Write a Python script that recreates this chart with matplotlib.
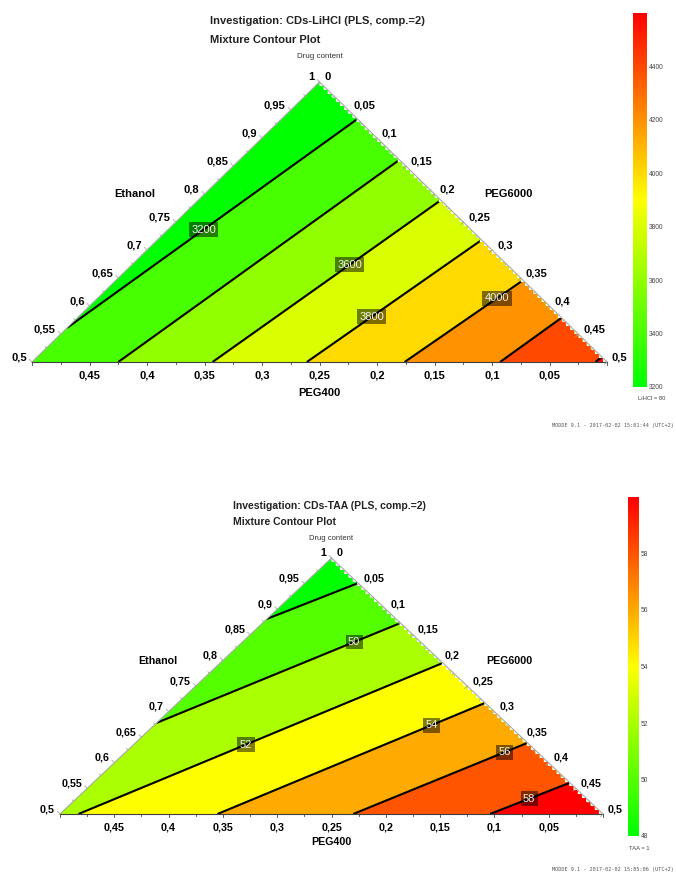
import numpy as np
import matplotlib
matplotlib.use('Agg')
import matplotlib.pyplot as plt
from matplotlib.colors import LinearSegmentedColormap, Normalize
from matplotlib.patches import Polygon
from matplotlib.cm import ScalarMappable

W, H = 676, 874
plt.rcParams['font.family'] = ['Liberation Sans', 'DejaVu Sans']

# LiHCl response: contour levels and where each line meets the triangle edges
# (start = composition on left/bottom edge, end = PEG6000 fraction on right edge)
lihcl_levels = [3200, 3400, 3600, 3800, 4000, 4200, 4400]
lihcl_start_peg400 = [0.439, 0.425, 0.343, 0.261, 0.176, 0.093, 0.010]
lihcl_start_peg6000 = [0.000, 0.075, 0.157, 0.239, 0.324, 0.407, 0.490]
lihcl_end_peg6000 = [0.066, 0.139, 0.211, 0.282, 0.354, 0.421, 0.491]
lihcl_range = [3200, 4600]
lihcl_cbar_ticks = [3200, 3400, 3600, 3800, 4000, 4200, 4400]

# TAA response
taa_levels = [48, 50, 52, 54, 56, 58]
taa_start_peg400 = [0.119, 0.322, 0.483, 0.355, 0.230, 0.104]
taa_start_peg6000 = [0.000, 0.000, 0.017, 0.145, 0.270, 0.396]
taa_end_peg6000 = [0.049, 0.127, 0.205, 0.283, 0.361, 0.439]
taa_range = [48, 60]
taa_cbar_ticks = [48, 50, 52, 54, 56, 58]

# which contour lines carry a label, and how far along the line it sits
lihcl_label_at = {3200: 0.47, 3600: 0.60, 3800: 0.37, 4000: 0.78}
taa_label_at = {50: 0.81, 52: 0.46, 54: 0.80, 56: 0.87, 58: 0.49}

ethanol_ticks = np.round(np.arange(0.5, 1.001, 0.05), 2)
peg6000_ticks = np.round(np.arange(0.0, 0.501, 0.05), 2)
peg400_ticks = np.round(np.arange(0.05, 0.451, 0.05), 2)

cmap = LinearSegmentedColormap.from_list('gyr', ['#00ff00', '#ffff00', '#ff0000'])


def fmt(v):
    s = ('%.2f' % v).rstrip('0').rstrip('.')
    return s.replace('.', ',')


def to_xy(peg400, peg6000):
    # ethanol on the vertical axis, PEG6000 - PEG400 across
    return peg6000 - peg400, 1.0 - peg6000 - peg400


def px_axes(fig, left, top, right, bottom):
    return fig.add_axes([left / W, 1 - bottom / H, (right - left) / W, (bottom - top) / H])


def ptext(fig, x, y, s, **kw):
    fig.text(x / W, 1 - y / H, s, **kw)


def tick(ax, pt, normal, length, color):
    p = ax.transData.transform(pt)
    q = ax.transData.inverted().transform(p + normal * length)
    ax.plot([pt[0], q[0]], [pt[1], q[1]], color=color, lw=0.6, clip_on=False)


def mixture_plot(fig, box, levels, s400, s6000, e6000, vrange, label_at, tick_fs):
    ax = px_axes(fig, *box)
    ax.set_xlim(-0.5, 0.5)
    ax.set_ylim(0.5, 1.0)
    ax.axis('off')
    norm = Normalize(vrange[0], vrange[1])

    BL, BR, T = (-0.5, 0.5), (0.5, 0.5), (0.0, 1.0)

    # staircase along the right edge, like the raster fill of the original
    nstep = int((box[3] - box[1]) / 4)
    ys = np.linspace(1.0, 0.5, nstep + 1)
    clip = [BL, T]
    for i in range(nstep):
        clip.append((1 - ys[i], ys[i + 1]))
        clip.append((1 - ys[i + 1], ys[i + 1]))
    clip_patch = Polygon(clip, closed=True, transform=ax.transData, fc='none', ec='none')
    ax.add_patch(clip_patch)

    base = ax.add_patch(Polygon([BL, BR, T], closed=True, fc=cmap(norm(levels[0])), ec='none'))
    base.set_clip_path(clip_patch)

    for k, lev in enumerate(levels):
        s = to_xy(s400[k], s6000[k])
        e = to_xy(0.0, e6000[k])
        upper = levels[k + 1] if k + 1 < len(levels) else vrange[1]
        poly = [s, e, BR]
        if s[1] > 0.5 + 1e-6:
            poly.append(BL)
        band = ax.add_patch(Polygon(poly, closed=True, fc=cmap(norm(upper)), ec='none'))
        band.set_clip_path(clip_patch)
        ln, = ax.plot([s[0], e[0]], [s[1], e[1]], color='black', lw=1.5, solid_capstyle='butt')
        ln.set_clip_path(clip_patch)

    for k, lev in enumerate(levels):
        if lev in label_at:
            s = np.array(to_xy(s400[k], s6000[k]))
            e = np.array(to_xy(0.0, e6000[k]))
            p = s + label_at[lev] * (e - s)
            ax.text(p[0], p[1], str(lev), ha='center', va='center', fontsize=8, color='#f2f2f2',
                    zorder=5, bbox=dict(boxstyle='square,pad=0.22', fc='black', ec='none', alpha=0.5))

    # triangle edges
    ax.plot([BL[0], T[0]], [BL[1], T[1]], color='#a8a8a8', lw=0.8, clip_on=False)
    ax.plot([T[0], BR[0]], [T[1], BR[1]], color='#a8a8a8', lw=0.8, clip_on=False)
    ax.plot([BL[0], BR[0]], [BL[1], BR[1]], color='#404040', lw=0.8, clip_on=False)

    d = lambda p: ax.transData.transform(p)
    left_n = np.array([-(d(T) - d(BL))[1], (d(T) - d(BL))[0]])
    left_n /= np.linalg.norm(left_n)
    right_n = np.array([(d(BR) - d(T))[1], -(d(BR) - d(T))[0]])
    right_n /= np.linalg.norm(right_n)
    down_n = np.array([0.0, -1.0])

    for v in np.round(np.arange(0.5, 1.001, 0.025), 3):
        major = abs(v * 20 - round(v * 20)) < 1e-6
        tick(ax, to_xy(1 - v, 0.0), left_n, 3.5 if major else 2, '#a8a8a8')
    for v in np.round(np.arange(0.0, 0.501, 0.025), 3):
        major = abs(v * 20 - round(v * 20)) < 1e-6
        tick(ax, to_xy(0.0, v), right_n, 3.5 if major else 2, '#a8a8a8')
        tick(ax, to_xy(v, 0.5 - v), down_n, 3 if major else 2, '#404040')

    for v in ethanol_ticks:
        ax.annotate(fmt(v), xy=to_xy(1 - v, 0.0), xytext=(-5, 5), textcoords='offset pixels',
                    ha='right', va='center', fontsize=tick_fs, fontweight='bold')
    for v in peg6000_ticks:
        ax.annotate(fmt(v), xy=to_xy(0.0, v), xytext=(5, 5), textcoords='offset pixels',
                    ha='left', va='center', fontsize=tick_fs, fontweight='bold')
    for v in peg400_ticks:
        ax.annotate(fmt(v), xy=to_xy(v, 0.5 - v), xytext=(0, -13), textcoords='offset pixels',
                    ha='center', va='center', fontsize=tick_fs, fontweight='bold')
    return norm


def colorbar(fig, box, norm, ticks, caption, cap_xy):
    cax = px_axes(fig, *box)
    cb = fig.colorbar(ScalarMappable(norm=norm, cmap=cmap), cax=cax)
    cb.outline.set_visible(False)
    cb.set_ticks(ticks)
    cax.tick_params(length=0, labelsize=4.8, pad=1.5, colors='#444444')
    ptext(fig, cap_xy[0], cap_xy[1], caption, ha='center', va='center', fontsize=4.2, color='#444444')


fig = plt.figure(figsize=(W / 100, H / 100), dpi=100)

# ---- top: LiHCl
ptext(fig, 210, 21, 'Investigation: CDs-LiHCl (PLS, comp.=2)', fontsize=8, fontweight='bold', color='#222222', va='center')
ptext(fig, 210, 40, 'Mixture Contour Plot', fontsize=8, fontweight='bold', color='#222222', va='center')
ptext(fig, 320, 57, 'Drug content', fontsize=5.8, ha='center', va='center', color='#333333')
norm1 = mixture_plot(fig, (32, 82, 607, 362), lihcl_levels, lihcl_start_peg400, lihcl_start_peg6000,
                     lihcl_end_peg6000, lihcl_range, lihcl_label_at, 8)
ptext(fig, 135, 194, 'Ethanol', fontsize=8, fontweight='bold', ha='center', va='center')
ptext(fig, 508, 194, 'PEG6000', fontsize=8, fontweight='bold', ha='center', va='center')
ptext(fig, 319, 393, 'PEG400', fontsize=8, fontweight='bold', ha='center', va='center')
colorbar(fig, (633, 13, 647, 387), norm1, lihcl_cbar_ticks, 'LiHCl = 80', (652, 399))
ptext(fig, 674, 426, 'MODDE 9.1 - 2017-02-02 15:01:44 (UTC+2)', fontsize=3.7, family='DejaVu Sans Mono',
      ha='right', va='center', color='#555555')

# ---- bottom: TAA
ptext(fig, 233, 506, 'Investigation: CDs-TAA (PLS, comp.=2)', fontsize=7.5, fontweight='bold', color='#222222', va='center')
ptext(fig, 233, 522, 'Mixture Contour Plot', fontsize=7.5, fontweight='bold', color='#222222', va='center')
ptext(fig, 331, 538, 'Drug content', fontsize=5.5, ha='center', va='center', color='#333333')
norm2 = mixture_plot(fig, (60, 558, 603, 814), taa_levels, taa_start_peg400, taa_start_peg6000,
                     taa_end_peg6000, taa_range, taa_label_at, 7.7)
ptext(fig, 158, 661, 'Ethanol', fontsize=7.7, fontweight='bold', ha='center', va='center')
ptext(fig, 509, 661, 'PEG6000', fontsize=7.7, fontweight='bold', ha='center', va='center')
ptext(fig, 331, 842, 'PEG400', fontsize=7.7, fontweight='bold', ha='center', va='center')
colorbar(fig, (628, 497, 639, 836), norm2, taa_cbar_ticks, 'TAA = 1', (639, 848))
ptext(fig, 674, 870, 'MODDE 9.1 - 2017-02-02 15:05:06 (UTC+2)', fontsize=3.7, family='DejaVu Sans Mono',
      ha='right', va='center', color='#555555')

fig.savefig('out.png', dpi=100)
